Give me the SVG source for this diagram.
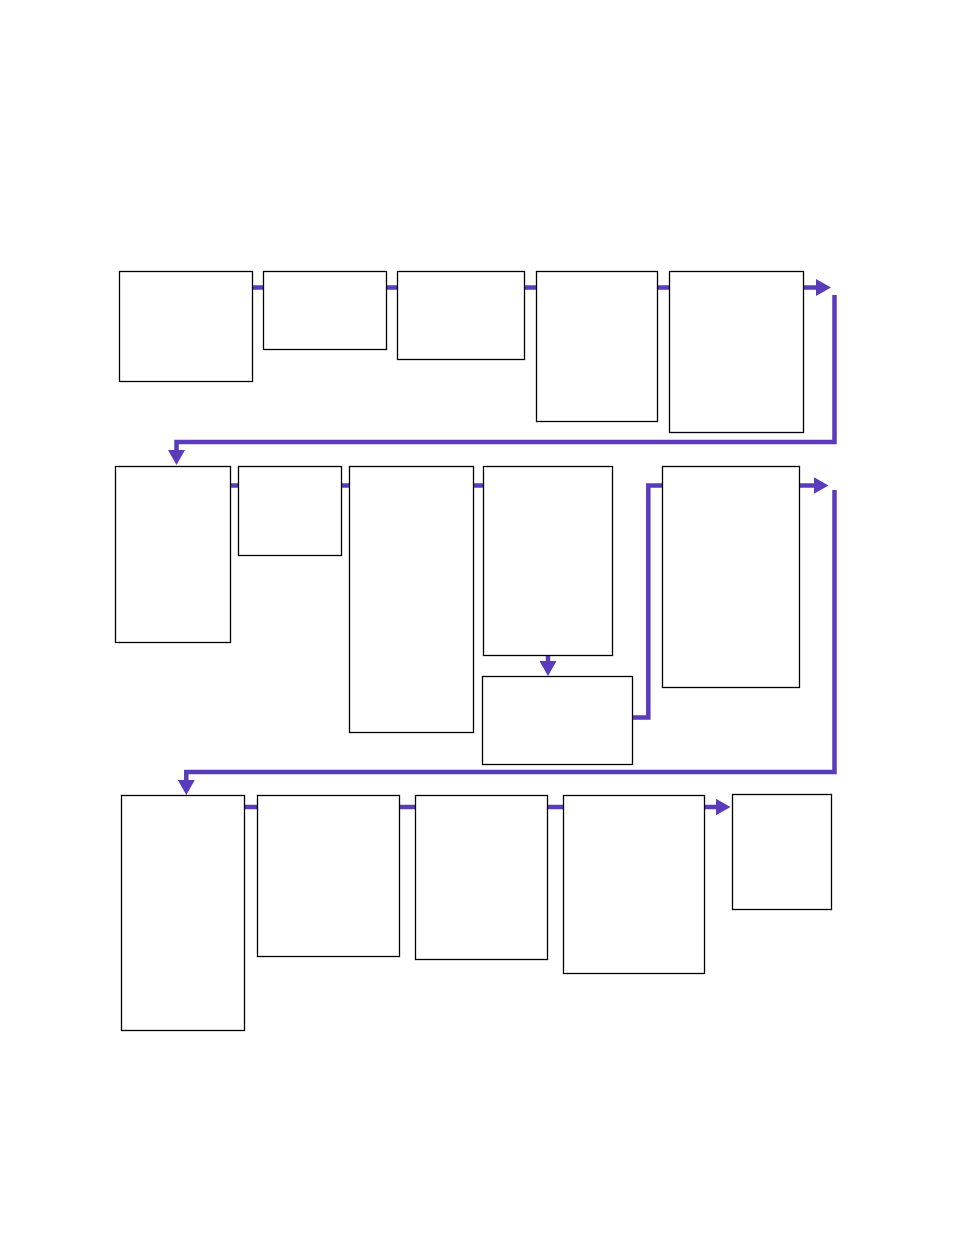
<svg xmlns="http://www.w3.org/2000/svg" width="954" height="1235" viewBox="0 0 954 1235">
  <style>
    .node rect { fill: #ffffff; stroke: #000000; stroke-width: 1.3; }
    .conn path { fill: none; stroke: #5a3bbb; stroke-width: 4.5; stroke-linejoin: miter; stroke-linecap: butt; }
    .conn .arrow { marker-end: url(#ah); }
  </style>
  <defs>
    <marker id="ah" markerUnits="userSpaceOnUse" markerWidth="15" markerHeight="17" refX="4" refY="8.5" orient="auto" viewBox="0 0 15 17">
      <path d="M0,0 L15,8.5 L0,17 z" fill="#5a3bbb"/>
    </marker>
  </defs>
  <rect x="0" y="0" width="954" height="1235" fill="#ffffff"/>

  <g id="connectors" class="conn">
    <!-- row 1 -->
    <path d="M252.5,287.5 H263.5"/>
    <path d="M386.5,287.5 H397.5"/>
    <path d="M524.5,287.5 H536.5"/>
    <path d="M657.5,287.5 H669.5"/>
    <path class="arrow" d="M803.5,287.5 H820"/>
    <path class="arrow" d="M834.5,295 V442 H176.5 V454"/>
    <!-- row 2 -->
    <path d="M230.5,485.5 H238.5"/>
    <path d="M341.5,485.5 H349.5"/>
    <path d="M473.5,485.5 H483.5"/>
    <path class="arrow" d="M548,655.5 V665"/>
    <path d="M632.5,717.5 H648.3 V485.5 H662.5"/>
    <path class="arrow" d="M799.5,485.5 H817.5"/>
    <path class="arrow" d="M834.5,490 V772 H186.3 V784"/>
    <!-- row 3 -->
    <path d="M244.5,807 H257.5"/>
    <path d="M399.5,807 H415.5"/>
    <path d="M547.5,807 H563.5"/>
    <path class="arrow" d="M704.5,807 H719.5"/>
  </g>

  <g id="n1" class="node"><rect x="119.5" y="271.5" width="133" height="110"/></g>
  <g id="n2" class="node"><rect x="263.5" y="271.5" width="123" height="78"/></g>
  <g id="n3" class="node"><rect x="397.5" y="271.5" width="127" height="88"/></g>
  <g id="n4" class="node"><rect x="536.5" y="271.5" width="121" height="150"/></g>
  <g id="n5" class="node"><rect x="669.5" y="271.5" width="134" height="161"/></g>

  <g id="n6" class="node"><rect x="115.5" y="466.5" width="115" height="176"/></g>
  <g id="n7" class="node"><rect x="238.5" y="466.5" width="103" height="89"/></g>
  <g id="n8" class="node"><rect x="349.5" y="466.5" width="124" height="266"/></g>
  <g id="n9" class="node"><rect x="483.5" y="466.5" width="129" height="189"/></g>
  <g id="n10" class="node"><rect x="482.5" y="676.5" width="150" height="88"/></g>
  <g id="n11" class="node"><rect x="662.5" y="466.5" width="137" height="221"/></g>

  <g id="n12" class="node"><rect x="121.5" y="795.5" width="123" height="235"/></g>
  <g id="n13" class="node"><rect x="257.5" y="795.5" width="142" height="161"/></g>
  <g id="n14" class="node"><rect x="415.5" y="795.5" width="132" height="164"/></g>
  <g id="n15" class="node"><rect x="563.5" y="795.5" width="141" height="178"/></g>
  <g id="n16" class="node"><rect x="732.5" y="794.5" width="99" height="115"/></g>
</svg>
